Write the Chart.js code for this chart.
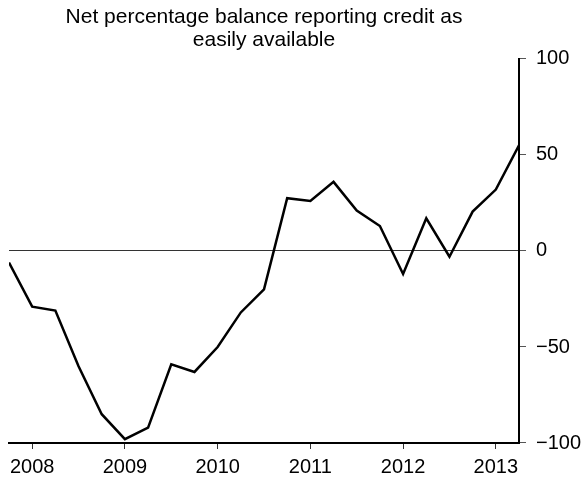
<!DOCTYPE html>
<html>
<head>
<meta charset="utf-8">
<script src="https://cdn.jsdelivr.net/npm/chart.js@4"></script>
<style>
  body { margin: 0; background: #fff; }
  #wrap { width: 582px; height: 481px; }
</style>
</head>
<body>
<div id="wrap"><canvas id="myChart"></canvas></div>
<script>
const quarters = ['2007 Q4',
  '2008 Q1', '2008 Q2', '2008 Q3', '2008 Q4',
  '2009 Q1', '2009 Q2', '2009 Q3', '2009 Q4',
  '2010 Q1', '2010 Q2', '2010 Q3', '2010 Q4',
  '2011 Q1', '2011 Q2', '2011 Q3', '2011 Q4',
  '2012 Q1', '2012 Q2', '2012 Q3', '2012 Q4',
  '2013 Q1', '2013 Q2']
const balance = [-6,
  -29, -31, -60, -85,
  -98, -92, -59, -63,
  -50, -32, -20, 27.5,
  26, 36, 21, 13,
  -12, 17, -3, 20.5,
  32, 55]
const yearTicks = [2008, 2009, 2010, 2011, 2012, 2013]
const valueTicks = [-100, -50, 0, 50, 100]

// '2008 Q1' -> 2008, '2008 Q2' -> 2008.25 ...
function quarterToX(q) {
  const parts = q.split(' Q')
  return Number(parts[0]) + (Number(parts[1]) - 1) / 4
}

const points = quarters.map((q, i) => ({ x: quarterToX(q), y: balance[i] }))
const fontFamily = 'Liberation Sans, Arial, sans-serif'
const tickFont = { family: fontFamily, size: 20 }

const ctx = document.getElementById('myChart')
new Chart(ctx, {
  type: 'line',
  data: {
    datasets: [{
      data: points,
      borderColor: '#000',
      borderWidth: 2.5,
      pointRadius: 0,
      tension: 0,
      fill: false
    }]
  },
  options: {
    responsive: true,
    maintainAspectRatio: false,
    animation: false,
    layout: { padding: { left: 9, right: 0, top: 0, bottom: 0 } },
    plugins: {
      legend: { display: false },
      tooltip: { enabled: false },
      title: {
        display: true,
        fullSize: false,
        text: ['Net percentage balance reporting credit as', 'easily available'],
        color: '#000',
        font: { family: fontFamily, size: 21, weight: 'normal', lineHeight: 1.08 },
        padding: { top: 6, bottom: 7.6 }
      }
    },
    scales: {
      x: {
        type: 'linear',
        min: quarterToX(quarters[0]),
        max: quarterToX(quarters[quarters.length - 1]),
        afterBuildTicks: scale => { scale.ticks = yearTicks.map(v => ({ value: v })) },
        afterFit: scale => { scale.height = 38 },
        grid: { drawOnChartArea: false, color: '#333', tickLength: 6, lineWidth: 1 },
        border: { color: '#000', width: 2 },
        ticks: { color: '#000', font: tickFont, padding: 6, maxRotation: 0, callback: v => String(v) }
      },
      y: {
        position: 'right',
        min: -100,
        max: 100,
        afterBuildTicks: scale => { scale.ticks = valueTicks.map(v => ({ value: v })) },
        afterFit: scale => { scale.width = 63 },
        grid: {
          drawOnChartArea: true,
          color: c => (c.tick && c.tick.value === 0) ? '#333' : 'rgba(0,0,0,0)',
          tickColor: '#555',
          tickLength: 7,
          lineWidth: 1
        },
        border: { color: '#000', width: 2 },
        ticks: {
          color: '#000',
          font: tickFont,
          padding: 10,
          callback: v => v < 0 ? '\u2212' + Math.abs(v) : String(v)
        }
      }
    }
  }
})
</script>
</body>
</html>
